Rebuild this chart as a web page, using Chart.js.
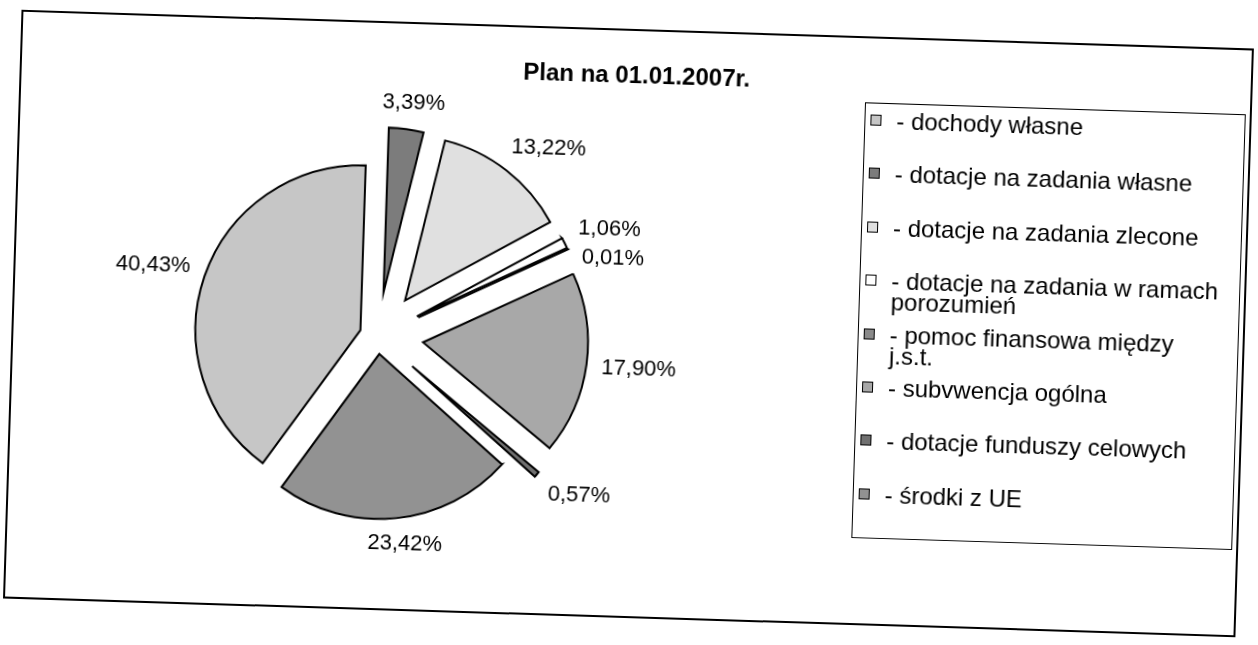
<!DOCTYPE html>
<html lang="pl">
<head>
<meta charset="utf-8">
<title>Plan na 01.01.2007r.</title>
<script src="https://cdn.jsdelivr.net/npm/chart.js"></script>
<style>
  html, body { margin: 0; padding: 0; background: #fff; overflow: hidden; }
  #sheet {
    position: absolute; left: 0; top: 0; width: 1258px; height: 645px;
    transform: rotate(1.8deg); transform-origin: 629px 322px;
    font-family: "Liberation Sans", Arial, sans-serif; color: #000;
  }
  #frame { position: absolute; left: 12px; top: 29px; width: 1229px; height: 585px; border: 2px solid #000; }
  #chart { position: absolute; left: 0; top: 0; }
  #title {
    position: absolute; left: 0; top: 61px; width: 1258px; text-align: center;
    font-weight: bold; font-size: 24px; line-height: 28px;
  }
  #legend {
    position: absolute; left: 858px; top: 95px; width: 379px; height: 434px;
    border: 1.5px solid #000; background: #fff;
  }
  .item { position: absolute; left: 0; width: 100%; height: 21px; }
  .sw { position: absolute; left: 5px; top: 5px; width: 9px; height: 9px; border: 1px solid #000; }
  .txt { position: absolute; left: 31px; top: 0; font-size: 24px; line-height: 21px; white-space: nowrap; }
</style>
</head>
<body>
<div id="sheet">
  <div id="frame"></div>
  <canvas id="chart" width="1258" height="645"></canvas>
  <div id="title"></div>
  <div id="legend"></div>
</div>
<script>
const titleText = "Plan na 01.01.2007r.";

// legend order = data order (Excel wraps the long ones)
const categories = [
  ["- dochody własne"],
  ["- dotacje na zadania własne"],
  ["- dotacje na zadania zlecone"],
  ["- dotacje na zadania w ramach", "porozumień"],
  ["- pomoc finansowa między", "j.s.t."],
  ["- subvwencja ogólna"],
  ["- dotacje funduszy celowych"],
  ["- środki z UE"],
];

// udział w %
const shares = [40.43, 3.39, 13.22, 1.06, 0.01, 17.90, 0.57, 23.42];

const sliceColors = ["#c6c6c6", "#7c7c7c", "#e0e0e0", "#ffffff", "#8a8a8a", "#a8a8a8", "#707070", "#929292"];

// how far each slice is pulled out of the pie (px)
const explode = [18, 44, 45, 44, 45, 46, 46, 18];

const chart_el = document.getElementById("chart");

const explodePlugin = {
  id: "explode",
  afterDatasetsUpdate(chart) {
    chart.getDatasetMeta(0).data.forEach((arc, i) => {
      const mid = (arc.startAngle + arc.endAngle) / 2;
      arc.x += Math.cos(mid) * explode[i];
      arc.y += Math.sin(mid) * explode[i];
    });
  },
};

const pctLabels = {
  id: "pctLabels",
  afterDatasetsDraw(chart) {
    const ctx = chart.ctx;
    const arcs = chart.getDatasetMeta(0).data;
    ctx.save();
    ctx.font = '22px "Liberation Sans", Arial, sans-serif';
    ctx.fillStyle = "#000";
    ctx.textAlign = "center";
    ctx.textBaseline = "middle";
    const clamp = (v) => Math.max(-1, Math.min(1, v * 1.5));
    const boxes = arcs.map((arc, i) => {
      const mid = (arc.startAngle + arc.endAngle) / 2;
      const dx = Math.cos(mid), dy = Math.sin(mid);
      const text = shares[i].toFixed(2).replace(".", ",") + "%";
      const hw = ctx.measureText(text).width / 2, hh = 11;
      const r = arc.outerRadius + 15;
      return { text, hw, hh, x: arc.x + dx * r + hw * clamp(dx), y: arc.y + dy * r + hh * clamp(dy) };
    });
    // push overlapping labels down (1,06% / 0,01%)
    const order = boxes.slice().sort((a, b) => a.y - b.y);
    for (let i = 1; i < order.length; i++) {
      for (let j = 0; j < i; j++) {
        const a = order[j], b = order[i];
        if (Math.abs(a.x - b.x) < a.hw + b.hw && b.y - a.y < a.hh + b.hh + 7) {
          b.y = a.y + a.hh + b.hh + 7;
        }
      }
    }
    boxes.forEach((b) => ctx.fillText(b.text, b.x, b.y));
    ctx.restore();
  },
};

new Chart(chart_el, {
  type: "pie",
  data: {
    labels: categories,
    datasets: [
      {
        data: shares,
        backgroundColor: sliceColors,
        borderColor: "#000000",
        borderWidth: 2,
        borderJoinStyle: "miter",
      },
    ],
  },
  options: {
    responsive: false,
    animation: false,
    events: [],
    rotation: 214.5,
    radius: 165,
    layout: {
      padding: { left: 100, right: 602, top: 100, bottom: 57 },
    },
    plugins: {
      legend: { display: false },
      title: { display: false },
      tooltip: { enabled: false },
    },
  },
  plugins: [explodePlugin, pctLabels],
});

// Tytuł i legenda
document.getElementById("title").textContent = titleText;

const legend = document.getElementById("legend");
categories.forEach((lines, i) => {
  const item = document.createElement("div");
  item.className = "item";
  item.style.top = (6 + i * 53.4) + "px";
  const sw = document.createElement("span");
  sw.className = "sw";
  sw.style.background = sliceColors[i];
  const txt = document.createElement("div");
  txt.className = "txt";
  txt.innerHTML = lines.join("<br>");
  item.appendChild(sw);
  item.appendChild(txt);
  legend.appendChild(item);
});
</script>
</body>
</html>
